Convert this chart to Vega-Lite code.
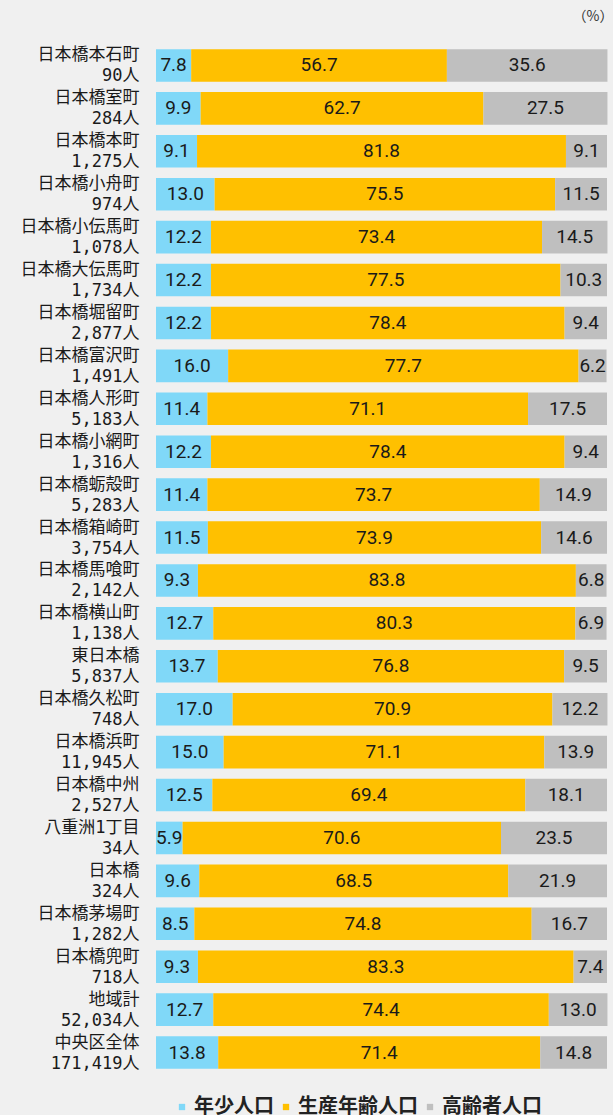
{
  "$schema": "https://vega.github.io/schema/vega-lite/v6.json",
  "width": 451,
  "height": 1030,
  "autosize": {"type": "none"},
  "padding": {"left": 156, "top": 44, "right": 6, "bottom": 41},
  "background": "#f0f0f0",
  "title": {"text": "（%）", "anchor": "end", "fontSize": 14, "fontWeight": "normal", "color": "#333333", "offset": 20, "dx": 6, "font": "Noto Sans CJK JP"},
  "data": {"values": [
    {"label": "日本橋本石町|90人", "年少人口": 7.8, "生産年齢人口": 56.7, "高齢者人口": 35.6},
    {"label": "日本橋室町|284人", "年少人口": 9.9, "生産年齢人口": 62.7, "高齢者人口": 27.5},
    {"label": "日本橋本町|1,275人", "年少人口": 9.1, "生産年齢人口": 81.8, "高齢者人口": 9.1},
    {"label": "日本橋小舟町|974人", "年少人口": 13.0, "生産年齢人口": 75.5, "高齢者人口": 11.5},
    {"label": "日本橋小伝馬町|1,078人", "年少人口": 12.2, "生産年齢人口": 73.4, "高齢者人口": 14.5},
    {"label": "日本橋大伝馬町|1,734人", "年少人口": 12.2, "生産年齢人口": 77.5, "高齢者人口": 10.3},
    {"label": "日本橋堀留町|2,877人", "年少人口": 12.2, "生産年齢人口": 78.4, "高齢者人口": 9.4},
    {"label": "日本橋富沢町|1,491人", "年少人口": 16.0, "生産年齢人口": 77.7, "高齢者人口": 6.2},
    {"label": "日本橋人形町|5,183人", "年少人口": 11.4, "生産年齢人口": 71.1, "高齢者人口": 17.5},
    {"label": "日本橋小網町|1,316人", "年少人口": 12.2, "生産年齢人口": 78.4, "高齢者人口": 9.4},
    {"label": "日本橋蛎殻町|5,283人", "年少人口": 11.4, "生産年齢人口": 73.7, "高齢者人口": 14.9},
    {"label": "日本橋箱崎町|3,754人", "年少人口": 11.5, "生産年齢人口": 73.9, "高齢者人口": 14.6},
    {"label": "日本橋馬喰町|2,142人", "年少人口": 9.3, "生産年齢人口": 83.8, "高齢者人口": 6.8},
    {"label": "日本橋横山町|1,138人", "年少人口": 12.7, "生産年齢人口": 80.3, "高齢者人口": 6.9},
    {"label": "東日本橋|5,837人", "年少人口": 13.7, "生産年齢人口": 76.8, "高齢者人口": 9.5},
    {"label": "日本橋久松町|748人", "年少人口": 17.0, "生産年齢人口": 70.9, "高齢者人口": 12.2},
    {"label": "日本橋浜町|11,945人", "年少人口": 15.0, "生産年齢人口": 71.1, "高齢者人口": 13.9},
    {"label": "日本橋中州|2,527人", "年少人口": 12.5, "生産年齢人口": 69.4, "高齢者人口": 18.1},
    {"label": "八重洲1丁目|34人", "年少人口": 5.9, "生産年齢人口": 70.6, "高齢者人口": 23.5},
    {"label": "日本橋|324人", "年少人口": 9.6, "生産年齢人口": 68.5, "高齢者人口": 21.9},
    {"label": "日本橋茅場町|1,282人", "年少人口": 8.5, "生産年齢人口": 74.8, "高齢者人口": 16.7},
    {"label": "日本橋兜町|718人", "年少人口": 9.3, "生産年齢人口": 83.3, "高齢者人口": 7.4},
    {"label": "地域計|52,034人", "年少人口": 12.7, "生産年齢人口": 74.4, "高齢者人口": 13.0},
    {"label": "中央区全体|171,419人", "年少人口": 13.8, "生産年齢人口": 71.4, "高齢者人口": 14.8}
  ]},
  "transform": [
    {"fold": ["年少人口", "生産年齢人口", "高齢者人口"], "as": ["key", "value"]},
    {"stack": "value", "groupby": ["label"], "sort": [{"field": "key", "order": "ascending"}], "as": ["v0", "v1"]}
  ],
  "encoding": {
    "y": {
      "field": "label", "type": "nominal", "sort": null,
      "scale": {"paddingInner": 0.24, "paddingOuter": 0.12},
      "axis": {"title": null, "domain": false, "ticks": false, "labelExpr": "split(datum.value, '|')", "labelFont": "DejaVu Sans Mono, Noto Sans CJK JP", "labelFontSize": 17, "labelColor": "#1a1a1a", "labelPadding": 17, "labelLineHeight": 21, "labelOffset": -10, "labelLimit": 200}
    }
  },
  "layer": [
    {
      "mark": {"type": "bar"},
      "encoding": {
        "x": {"field": "v0", "type": "quantitative", "scale": {"domain": [0, 100], "nice": false}, "axis": null},
        "x2": {"field": "v1"},
        "color": {
          "field": "key", "type": "nominal",
          "scale": {"domain": ["年少人口", "生産年齢人口", "高齢者人口"], "range": ["#80d8f8", "#ffc000", "#bfbfbf"]},
          "legend": {"orient": "none", "legendX": 16, "legendY": 1053, "direction": "horizontal", "title": null, "symbolType": "square", "symbolSize": 40, "symbolStrokeWidth": 0, "labelFontSize": 20, "labelFont": "Noto Sans CJK JP", "labelFontWeight": "bold", "labelColor": "#222222", "labelOffset": 2, "columnPadding": 2, "padding": 0}
        }
      }
    },
    {
      "transform": [
        {"fold": ["v0", "v1"], "as": ["edge", "pos"]},
        {"aggregate": [{"op": "mean", "field": "pos", "as": "mid"}], "groupby": ["label", "key", "value"]}
      ],
      "mark": {"type": "text", "font": "Roboto", "fontSize": 19, "color": "#1a1a1a"},
      "encoding": {
        "x": {"field": "mid", "type": "quantitative", "axis": null},
        "text": {"field": "value", "type": "quantitative", "format": ".1f"}
      }
    }
  ],
  "config": {"view": {"stroke": null}}
}
